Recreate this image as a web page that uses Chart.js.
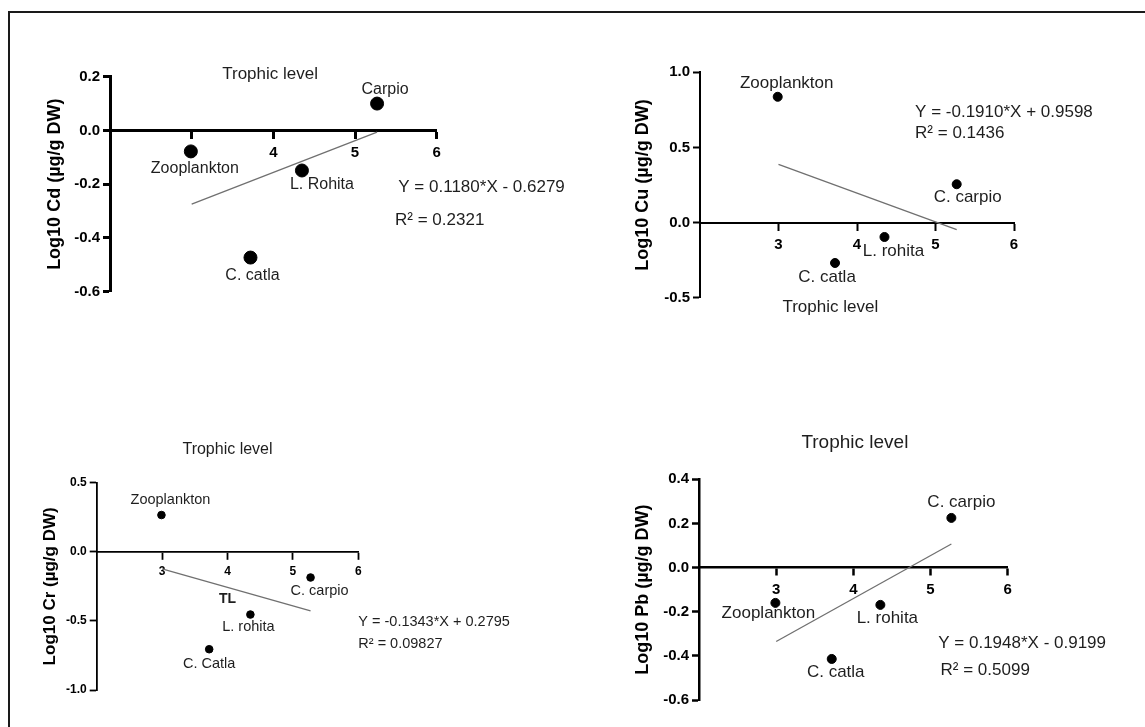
<!DOCTYPE html>
<html>
<head>
<meta charset="utf-8">
<script src="https://cdn.jsdelivr.net/npm/chart.js@4.4.1/dist/chart.umd.min.js"></script>
<style>
    html, body { margin: 0; padding: 0; background: #fff; width: 1145px; height: 727px; overflow: hidden; position: relative; }
    #moldura { position: absolute; left: 8px; top: 11px; width: 1300px; height: 900px; border-left: 2px solid #1a1a1a; border-top: 2px solid #1a1a1a; }
    canvas { position: absolute; }
</style>
</head>
<body>
<div id="moldura"></div>
<script>
// nivel trofico de cada especie: Zooplankton, C. catla, L. rohita, C. carpio
const nivelTrofico = [2.99, 3.72, 4.35, 5.27];
const xTicks = [3, 4, 5, 6];
const retaX = [3.0, 5.27];

// Cd
const nomesCd = ["Zooplankton", "C. catla", "L. Rohita", "Carpio"];
const valoresCd = [-0.078, -0.473, -0.149, 0.100];
const retaCd = [-0.274, -0.006];
const ticksCd = [-0.6, -0.4, -0.2, 0.0, 0.2];
const equacaoCd = ["Y = 0.1180*X - 0.6279", "R² = 0.2321"];

// Cu
const nomesCu = ["Zooplankton", "C. catla", "L. rohita", "C. carpio"];
const valoresCu = [0.837, -0.269, -0.096, 0.255];
const retaCu = [0.387, -0.047];
const ticksCu = [-0.5, 0.0, 0.5, 1.0];
const equacaoCu = ["Y = -0.1910*X + 0.9598", "R² = 0.1436"];

// Cr
const nomesCr = ["Zooplankton", "C. Catla", "L. rohita", "C. carpio"];
const valoresCr = [0.266, -0.705, -0.454, -0.186];
const retaCr = [-0.123, -0.428];
const ticksCr = [-1.0, -0.5, 0.0, 0.5];
const equacaoCr = ["Y = -0.1343*X + 0.2795", "R² = 0.09827"];

// Pb
const nomesPb = ["Zooplankton", "C. catla", "L. rohita", "C. carpio"];
const valoresPb = [-0.160, -0.414, -0.169, 0.225];
const retaPb = [-0.335, 0.107];
const ticksPb = [-0.6, -0.4, -0.2, 0.0, 0.2, 0.4];
const equacaoPb = ["Y = 0.1948*X - 0.9199", "R² = 0.5099"];

const fonte = '"Liberation Sans", Arial, Helvetica, sans-serif';

const paineis = [
    {
        canvas: [12, 14, 570, 370], area: [110, 76.7, 436.7, 291.7],
        titulo: "Log10 Cd (µg/g DW)", nomes: nomesCd, valores: valoresCd, reta: retaCd, yTicks: ticksCd,
        raio: 6.5, linha: 3, fonteTick: 15, fonteTitulo: 18, fonteNome: 16, padTitulo: 32,
        deslocNomes: [[4, 17], [2, 18], [20, 14], [8, -14]],
        textos: [
            { t: "Trophic level", x: 3.96, y: 0.208, a: "center", s: 17 },
            { t: equacaoCd[0], x: 5.53, y: -0.212, a: "left", s: 17 },
            { t: equacaoCd[1], x: 5.49, y: -0.335, a: "left", s: 17 }
        ]
    },
    {
        canvas: [590, 14, 555, 370], area: [700, 72.3, 1014, 297.7],
        titulo: "Log10 Cu (µg/g DW)", nomes: nomesCu, valores: valoresCu, reta: retaCu, yTicks: ticksCu,
        raio: 4.5, linha: 2, fonteTick: 15, fonteTitulo: 18, fonteNome: 17, padTitulo: 42,
        deslocNomes: [[9, -13], [-8, 14], [9, 14], [11, 13]],
        textos: [
            { t: equacaoCu[0], x: 4.74, y: 0.737, a: "left", s: 17 },
            { t: equacaoCu[1], x: 4.74, y: 0.595, a: "left", s: 17 },
            { t: "Trophic level", x: 3.66, y: -0.563, a: "center", s: 17 }
        ]
    },
    {
        canvas: [12, 400, 610, 327], area: [96.7, 482.7, 358.3, 690],
        titulo: "Log10 Cr (µg/g DW)", nomes: nomesCr, valores: valoresCr, reta: retaCr, yTicks: ticksCr,
        raio: 3.8, linha: 1.8, fonteTick: 12, fonteTitulo: 17, fonteNome: 14.5, padTitulo: 28,
        deslocNomes: [[9, -15], [0, 15], [-2, 12], [9, 13]],
        textos: [
            { t: "Trophic level", x: 4.0, y: 0.736, a: "center", s: 16 },
            { t: "TL", x: 4.0, y: -0.342, a: "center", s: 14, b: true },
            { t: equacaoCr[0], x: 6.0, y: -0.507, a: "left", s: 14.5 },
            { t: equacaoCr[1], x: 6.0, y: -0.668, a: "left", s: 14.5 }
        ]
    },
    {
        canvas: [600, 400, 545, 327], area: [699, 479.3, 1007.7, 700],
        titulo: "Log10 Pb (µg/g DW)", nomes: nomesPb, valores: valoresPb, reta: retaPb, yTicks: ticksPb,
        raio: 4.5, linha: 2.5, fonteTick: 15, fonteTitulo: 18, fonteNome: 17, padTitulo: 32,
        deslocNomes: [[-7, 10], [4, 13], [7, 13], [10, -16]],
        textos: [
            { t: "Trophic level", x: 4.02, y: 0.564, a: "center", s: 19 },
            { t: equacaoPb[0], x: 5.10, y: -0.345, a: "left", s: 17 },
            { t: equacaoPb[1], x: 5.13, y: -0.467, a: "left", s: 17 }
        ]
    }
];

function criarTextos(p) {
    return {
        id: "textos",
        afterDraw(chart) {
            const ctx = chart.ctx;
            const sx = chart.scales.x, sy = chart.scales.y;
            ctx.save();
            ctx.fillStyle = "#1e1e1e";
            ctx.textBaseline = "middle";
            ctx.textAlign = "center";
            ctx.font = p.fonteNome + "px " + fonte;
            p.nomes.forEach((nome, i) => {
                const [dx, dy] = p.deslocNomes[i];
                ctx.fillText(nome, sx.getPixelForValue(nivelTrofico[i]) + dx, sy.getPixelForValue(p.valores[i]) + dy);
            });
            p.textos.forEach(t => {
                ctx.font = (t.b ? "bold " : "") + t.s + "px " + fonte;
                ctx.textAlign = t.a;
                ctx.fillText(t.t, sx.getPixelForValue(t.x), sy.getPixelForValue(t.y));
            });
            ctx.restore();
        }
    };
}

function criarPainel(p) {
    const [cx, cy, cw, ch] = p.canvas;
    const [L, T, R, B] = p.area;
    const cv = document.createElement("canvas");
    cv.width = cw;
    cv.height = ch;
    cv.style.left = cx + "px";
    cv.style.top = cy + "px";
    document.body.appendChild(cv);

    const larguraY = L - cx;
    const fonteTick = { family: fonte, size: p.fonteTick, weight: "bold" };

    new Chart(cv.getContext("2d"), {
        type: "scatter",
        data: {
            datasets: [
                {
                    data: nivelTrofico.map((x, i) => ({ x: x, y: p.valores[i] })),
                    backgroundColor: "#000",
                    borderColor: "#000",
                    pointRadius: p.raio,
                    pointHoverRadius: p.raio
                },
                {
                    data: retaX.map((x, i) => ({ x: x, y: p.reta[i] })),
                    showLine: true,
                    borderColor: "#707070",
                    borderWidth: 1.3,
                    pointRadius: 0,
                    fill: false
                }
            ]
        },
        options: {
            responsive: false,
            animation: false,
            events: [],
            layout: { padding: { left: 0, top: T - cy, right: cx + cw - R, bottom: cy + ch - B } },
            plugins: { legend: { display: false }, tooltip: { enabled: false } },
            scales: {
                x: {
                    type: "linear", min: 2, max: 6, position: { y: 0 },
                    afterBuildTicks: s => { s.ticks = xTicks.map(v => ({ value: v })); },
                    grid: { drawOnChartArea: false, color: "#000", tickLength: 7, tickWidth: p.linha },
                    border: { color: "#000", width: p.linha },
                    ticks: { color: "#000", font: fonteTick, padding: 6, maxRotation: 0, callback: v => String(v) }
                },
                y: {
                    type: "linear", min: p.yTicks[0], max: p.yTicks[p.yTicks.length - 1],
                    afterBuildTicks: s => { s.ticks = p.yTicks.map(v => ({ value: v })); },
                    afterFit: s => { s.width = larguraY; },
                    grid: { drawOnChartArea: false, color: "#000", tickLength: 7, tickWidth: p.linha },
                    border: { color: "#000", width: p.linha },
                    ticks: { color: "#000", font: fonteTick, padding: 3, callback: v => Number(v).toFixed(1) },
                    title: {
                        display: true, text: p.titulo, color: "#000",
                        font: { family: fonte, size: p.fonteTitulo, weight: "bold" },
                        padding: { top: p.padTitulo, bottom: 0 }
                    }
                }
            }
        },
        plugins: [criarTextos(p)]
    });
}

paineis.forEach(criarPainel);
</script>
</body>
</html>
